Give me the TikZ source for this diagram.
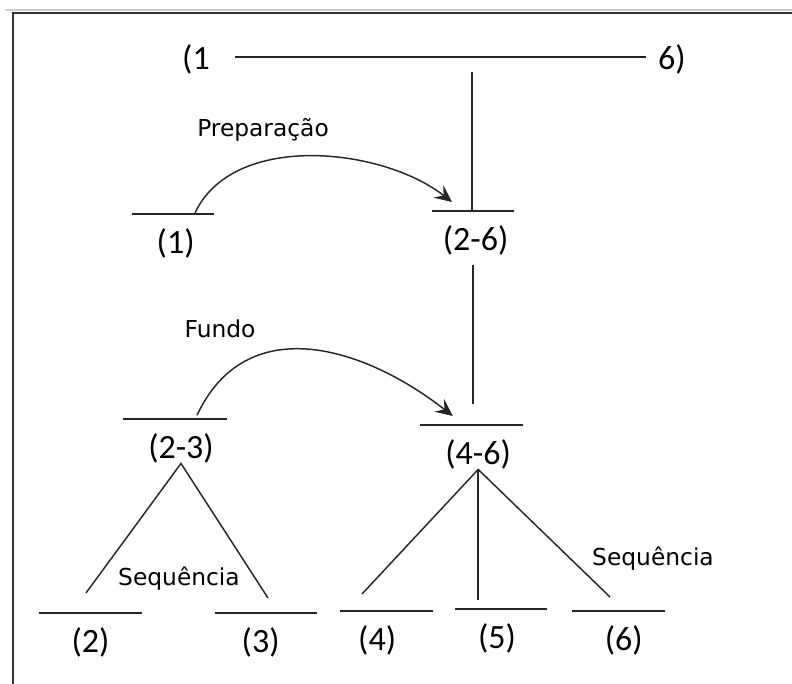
\documentclass[tikz,border=0pt]{standalone}
\usepackage{fontspec}
\setmainfont{Carlito}
\newfontfamily\lblfont{DejaVu Sans}
\usetikzlibrary{arrows.meta,positioning}
\tikzset{
  bar/.style={fill=black!85,inner sep=0pt,minimum height=1.1pt},
  num/.style={font=\fontsize{25.5}{30}\selectfont,inner sep=0pt},
  lbl/.style={font=\lblfont\fontsize{17.5}{21}\selectfont,inner sep=0pt,anchor=base},
  ln/.style={line width=1.1pt,draw=black!85},
  arr/.style={-{Stealth[length=13pt,width=12pt,inset=5pt]},line width=1.1pt,draw=black!85},
}

\begin{document}
\begin{tikzpicture}[x=0.75pt,y=0.75pt]
  \useasboundingbox (0,0) rectangle (792,-684);
  % moldura
  \draw[black!20,line width=1.5pt] (5,-10) -- (792,-10);
  \draw[black!80,line width=1.5pt] (13,-684) -- (13,-13.5) -- (792,-13.5);
  % topo (1 ---- 6)
  \node[num,anchor=base] (r1) at (196,-70) {(1};
  \node[num,anchor=base] (r6) at (672,-70) {6)};
  \coordinate (ra) at (235,-57);
  \coordinate (rb) at (646,-57);
  \coordinate (rt) at (472,-72);
  \draw[ln] (ra) -- (rb);
  % preparacao
  \node[bar,minimum width=61.5pt] (b1) at (173,-214) {};
  \node[bar,minimum width=61.5pt] (b26) at (473,-211) {};
  \node[num,below=10pt of b1,xshift=2pt] (t1) {(1)};
  \node[num,below=10pt of b26,xshift=2pt] (t26) {(2-6)};
  \draw[ln] (rt) -- (rt |- b26.north);
  \draw[arr] ([xshift=16.5pt]b1.north) to[out=65,in=142,looseness=0.89] ([xshift=-15.75pt,yshift=6pt]b26.north);
  \node[lbl] (prep) at (263,-137) {Preparação};
  % fundo
  \node[bar,minimum width=78pt] (b23) at (175,-419) {};
  \node[bar,minimum width=77pt] (b46) at (471.5,-425) {};
  \node[num,below=10pt of b23,xshift=4.5pt] (t23) {(2-3)};
  \node[num,below=10pt of b46,xshift=5pt] (t46) {(4-6)};
  \draw[ln,shorten <=7pt,shorten >=15pt] (b26.center |- t26.south) -- (b26.center |- b46.north);
  \draw[arr] ([xshift=16.5pt,yshift=2pt]b23.north) to[out=65,in=142,looseness=1.15] ([xshift=-14pt,yshift=6pt]b46.north);
  \node[lbl] (fundo) at (220,-337) {Fundo};
  % sequencias
  \node[bar,minimum width=77pt] (b2) at (90.5,-613) {};
  \node[bar,minimum width=76.5pt] (b3) at (266,-613) {};
  \node[bar,minimum width=70pt] (b4) at (386.5,-611) {};
  \node[bar,minimum width=69pt] (b5) at (501,-609) {};
  \node[bar,minimum width=70pt] (b6) at (618.5,-611) {};
  \node[num,below=10pt of b2] (t2) {(2)};
  \node[num,below=10pt of b3,xshift=-4pt] (t3) {(3)};
  \node[num,below=10pt of b4,xshift=-7pt] (t4) {(4)};
  \node[num,below=10pt of b5,xshift=-3pt] (t5) {(5)};
  \node[num,below=10pt of b6,xshift=4pt] (t6) {(6)};
  \coordinate (e2) at (86,-593);
  \coordinate (e3) at (268,-598);
  \coordinate (e4) at (362,-594);
  \coordinate (e5) at (476,-600);
  \coordinate (e6) at (610,-597);
  \draw[ln] (e2) -- (t23.south) -- (e3);
  \draw[ln] (e4) -- (t46.south) -- (e6);
  \draw[ln] (t46.south) -- (t46.south |- e5);
  \node[lbl] (seq1) at (179,-585) {Sequência};
  \node[lbl] (seq2) at (653,-565) {Sequência};
\end{tikzpicture}
\end{document}
